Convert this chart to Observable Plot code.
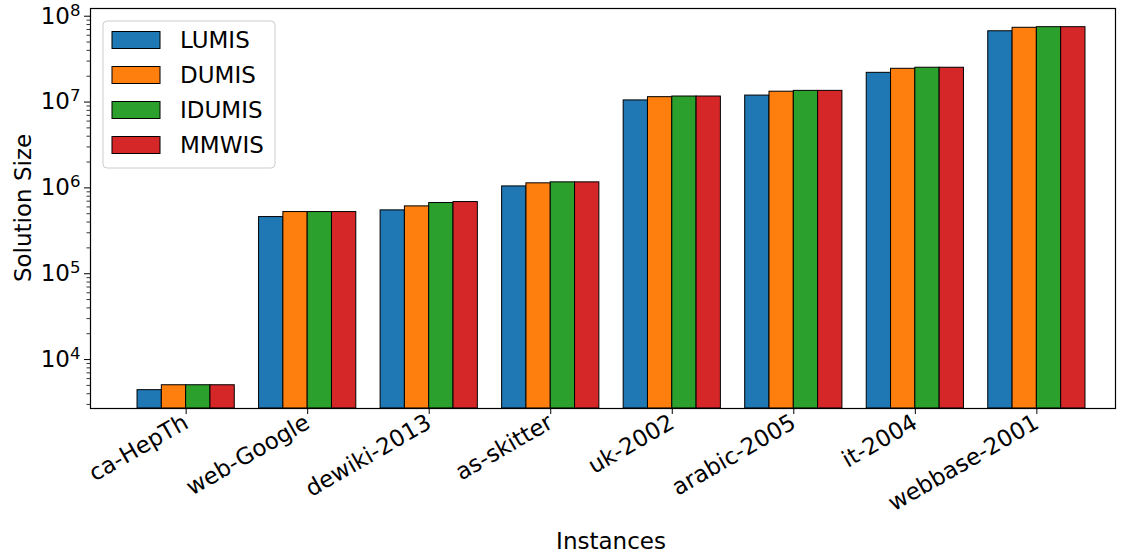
<!DOCTYPE html>
<html>
<head>
<meta charset="utf-8">
<script src="https://cdn.jsdelivr.net/npm/d3@7"></script>
<script src="https://cdn.jsdelivr.net/npm/@observablehq/plot@0.6"></script>
<style>
  body { margin: 0; background: #fff; }
  #chart { position: relative; width: 1125px; height: 558px; }
  #chart svg { display: block; }
</style>
</head>
<body>
<div id="chart"></div>
<script>
// Graph instances (x categories) and the four solvers (series)
const instances = ["ca-HepTh", "web-Google", "dewiki-2013", "as-skitter",
                   "uk-2002", "arabic-2005", "it-2004", "webbase-2001"];
const methods = ["LUMIS", "DUMIS", "IDUMIS", "MMWIS"];

// Solution sizes per solver, in instance order
const lumis  = [4400, 457000, 547000, 1040000, 10450000, 11900000, 21900000, 66800000];
const dumis  = [5020, 523000, 609000, 1130000, 11400000, 13200000, 24400000, 73300000];
const idumis = [5020, 523000, 666000, 1160000, 11600000, 13500000, 25100000, 74500000];
const mmwis  = [5020, 523000, 684000, 1160000, 11600000, 13500000, 25100000, 74500000];

const colors = ["#1f77b4", "#ff7f0e", "#2ca02c", "#d62728"];
const majorTicks = [1e4, 1e5, 1e6, 1e7, 1e8];
const yDomain = [2690, 1.23e8];

// grouped bars: group i spans [i - 0.4, i + 0.4], each bar 0.2 wide
const barWidth = 0.2;
const series = [lumis, dumis, idumis, mmwis];
const rows = instances.flatMap((inst, i) =>
  methods.map((m, j) => ({i, j, instance: inst, method: m, value: series[j][i]})));

// minor log ticks: 2..9 x 10^k inside the domain
const minorTicks = [];
for (let k = 3; k <= 8; k++) for (let m = 2; m <= 9; m++) {
  const v = m * 10 ** k;
  if (v >= yDomain[0] && v <= yDomain[1]) minorTicks.push(v);
}

const W = 1125, H = 558, mL = 90, mR = 10, mT = 8, mB = 150;
const font = "DejaVu Sans";

const svg = Plot.plot({
  width: W, height: H,
  marginLeft: mL, marginRight: mR, marginTop: mT, marginBottom: mB,
  style: {fontFamily: font, fontSize: "23px", color: "black", background: "white", overflow: "visible"},
  x: {domain: [-0.787, instances.length - 1 + 0.647], label: null},
  y: {type: "log", domain: yDomain, label: null},
  color: {domain: methods, range: colors},
  marks: [
    Plot.rect(rows, {
      x1: d => d.i - 0.4 + d.j * barWidth,
      x2: d => d.i - 0.4 + (d.j + 1) * barWidth,
      y1: yDomain[0], y2: "value",
      fill: "method", stroke: "black", strokeWidth: 1
    }),
    Plot.axisY(minorTicks, {tickSize: 3.5, tickFormat: () => "", label: null, strokeWidth: 0.8}),
    Plot.axisY(majorTicks, {tickSize: 6, tickPadding: 4, fontSize: 23, label: null, strokeWidth: 1,
                            tickFormat: d => "10^" + Math.round(Math.log10(d))}),
    Plot.axisX(d3.range(instances.length), {
      tickFormat: i => instances[i], tickRotate: -30, tickSize: 6, tickPadding: 6,
      fontSize: 23, label: null
    }),
    Plot.frame({stroke: "black", strokeWidth: 1.2})
  ]
});

document.getElementById("chart").appendChild(svg);
const root = d3.select(svg);

// mathtext-style powers of ten on the y axis
root.selectAll("text").each(function () {
  const t = d3.select(this);
  const mm = /^10\^(\d+)$/.exec(t.text());
  if (!mm) return;
  t.text("10");
  t.append("tspan").attr("dy", "-0.48em").attr("font-size", "0.72em").text(mm[1]);
});

// axis titles
root.append("text")
  .attr("transform", `translate(31,${mT + (H - mT - mB) / 2}) rotate(-90)`)
  .attr("text-anchor", "middle")
  .attr("font-family", font).attr("font-size", 23)
  .text("Solution Size");
root.append("text")
  .attr("x", 611).attr("y", 549)
  .attr("text-anchor", "middle")
  .attr("font-family", font).attr("font-size", 23)
  .text("Instances");

// legend box
const lg = root.append("g").attr("font-family", font).attr("font-size", 23).attr("text-anchor", "start");
lg.append("rect")
  .attr("x", 103).attr("y", 21).attr("width", 172).attr("height", 147).attr("rx", 4)
  .attr("fill", "white").attr("fill-opacity", 0.8)
  .attr("stroke", "#cccccc").attr("stroke-width", 1);
methods.forEach((m, i) => {
  const cy = 40 + i * 35;
  lg.append("rect")
    .attr("x", 112).attr("y", cy - 8.5).attr("width", 48).attr("height", 17)
    .attr("fill", colors[i]).attr("stroke", "black").attr("stroke-width", 1);
  lg.append("text").attr("x", 180).attr("y", cy).attr("dy", "0.36em").text(m);
});
</script>
</body>
</html>
